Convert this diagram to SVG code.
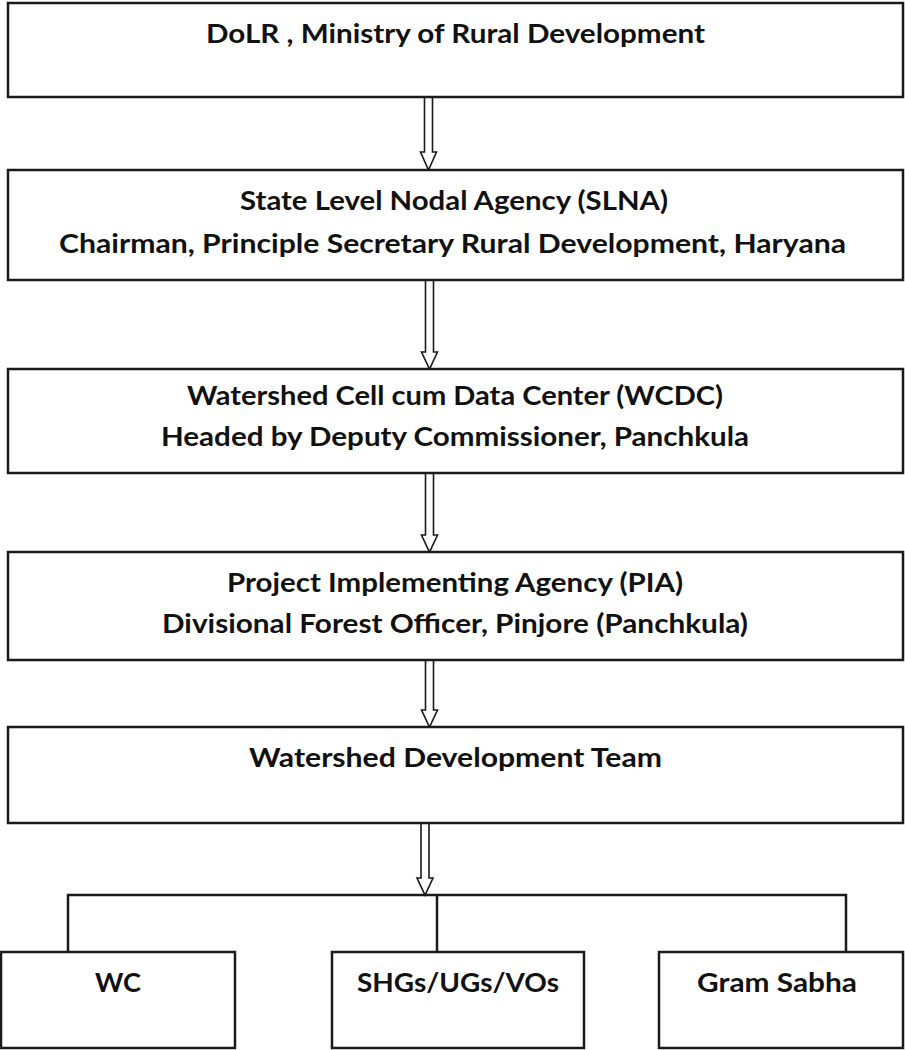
<svg xmlns="http://www.w3.org/2000/svg" width="905" height="1050" viewBox="0 0 905 1050">
<style>
.box{fill:#fff;stroke:#1a1a1a;stroke-width:2.5}
.t{font-family:Lato,"Liberation Sans",sans-serif;font-weight:bold;font-size:26.5px;fill:#111;text-anchor:middle}
.arr{fill:#fff;stroke:#1a1a1a;stroke-width:1.6;stroke-linejoin:miter}
.ln{fill:none;stroke:#1a1a1a;stroke-width:2.5}
</style>
<rect width="905" height="1050" fill="#fff"/>
<g id="connectors">
<path class="arr" d="M424.5,97 V152 H420.5 L428.5,170 L436.5,152 H432.5 V97"/>
<path class="arr" d="M425.5,280 V352 H421.5 L429.5,369 L437.5,352 H433.5 V280"/>
<path class="arr" d="M425.5,473 V535 H421.5 L429.5,552 L437.5,535 H433.5 V473"/>
<path class="arr" d="M425.5,660 V710 H421.5 L429.5,727 L437.5,710 H433.5 V660"/>
<path class="arr" d="M421,823 V878 H417 L425,895 L433,878 H429 V823"/>
<path class="ln" d="M68,952 V895 H846 V952 M437,895 V952"/>
</g>
<g id="n1"><rect class="box" x="8" y="3" width="895" height="94"/>
<text class="t" x="455.5" y="43" textLength="499" lengthAdjust="spacingAndGlyphs">DoLR , Ministry of Rural Development</text></g>
<g id="n2"><rect class="box" x="8" y="170" width="895" height="110"/>
<text class="t" x="454" y="210" textLength="428" lengthAdjust="spacingAndGlyphs">State Level Nodal Agency (SLNA)</text>
<text class="t" x="452.5" y="253" textLength="787" lengthAdjust="spacingAndGlyphs">Chairman, Principle Secretary Rural Development, Haryana</text></g>
<g id="n3"><rect class="box" x="8" y="369" width="895" height="104"/>
<text class="t" x="455" y="405" textLength="536" lengthAdjust="spacingAndGlyphs">Watershed Cell cum Data Center (WCDC)</text>
<text class="t" x="455" y="446" textLength="588" lengthAdjust="spacingAndGlyphs">Headed by Deputy Commissioner, Panchkula</text></g>
<g id="n4"><rect class="box" x="8" y="552" width="895" height="108"/>
<text class="t" x="455" y="592" textLength="456" lengthAdjust="spacingAndGlyphs">Project Implementing Agency (PIA)</text>
<text class="t" x="455" y="633" textLength="586" lengthAdjust="spacingAndGlyphs">Divisional Forest Officer, Pinjore (Panchkula)</text></g>
<g id="n5"><rect class="box" x="8" y="727" width="895" height="96"/>
<text class="t" x="455.5" y="767" textLength="413" lengthAdjust="spacingAndGlyphs">Watershed Development Team</text></g>
<g id="n6"><rect class="box" x="1" y="952" width="234" height="96"/>
<text class="t" x="118" y="992" textLength="46" lengthAdjust="spacingAndGlyphs">WC</text></g>
<g id="n7"><rect class="box" x="332" y="952" width="252" height="96"/>
<text class="t" x="458" y="992" textLength="202" lengthAdjust="spacingAndGlyphs">SHGs/UGs/VOs</text></g>
<g id="n8"><rect class="box" x="659" y="952" width="244" height="96"/>
<text class="t" x="777" y="992" textLength="160" lengthAdjust="spacingAndGlyphs">Gram Sabha</text></g>
</svg>
